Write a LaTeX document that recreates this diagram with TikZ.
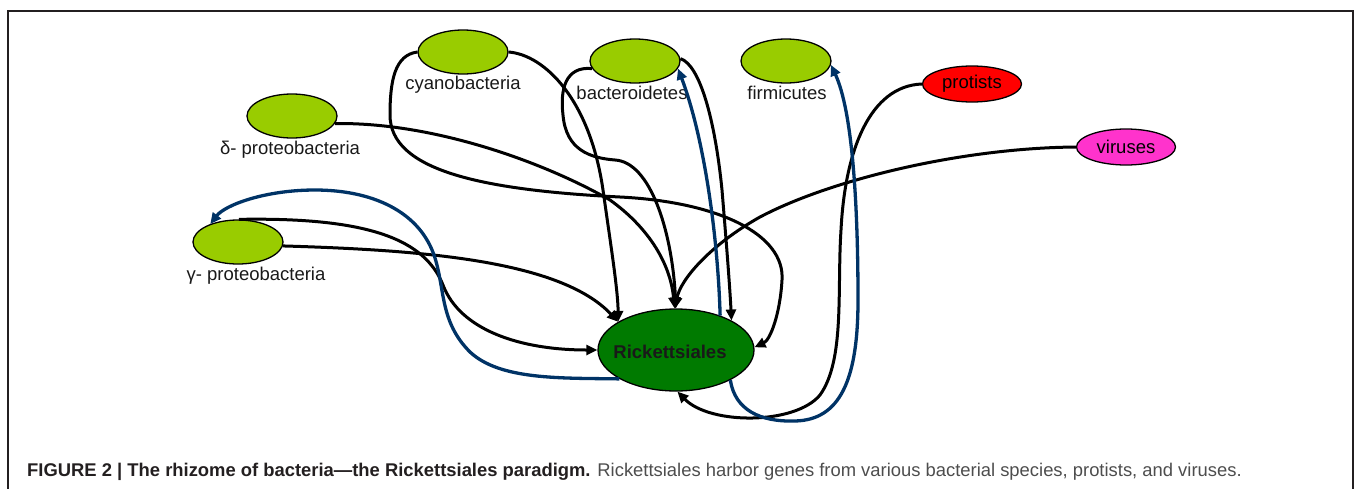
\documentclass[tikz,border=0pt]{standalone}
\usepackage{fontspec}
\setmainfont{Liberation Sans}
\usetikzlibrary{shapes.geometric,arrows.meta}
\definecolor{lgreen}{RGB}{153,204,0}
\definecolor{dgreen}{RGB}{0,122,0}
\definecolor{pred}{RGB}{255,0,0}
\definecolor{pmag}{RGB}{255,51,204}
\definecolor{navy}{RGB}{0,51,102}
\definecolor{framec}{RGB}{35,31,32}
\definecolor{capgray}{RGB}{77,77,77}
\begin{document}
\begin{tikzpicture}[x=1pt,y=-1pt,
  taxon/.style={ellipse, draw=black, line width=1.3pt, fill=lgreen, minimum width=90pt, minimum height=44pt, inner sep=0pt},
  small/.style={ellipse, draw=black, line width=1.3pt, minimum width=99pt, minimum height=36pt, inner sep=0pt, font=\fontsize{18.5}{22}\selectfont},
  lab/.style={font=\fontsize{18.5}{22}\selectfont, anchor=base, inner sep=0pt, text=black!90},
  gene/.style={line width=3pt, draw=black, -{Triangle[length=11pt,width=10pt]}},
  back/.style={gene, draw=navy, line width=3.3pt}]
\useasboundingbox (0,0) rectangle (1354,488);
\draw[framec, line width=2pt] (8,489) -- (8,11) -- (1353,11) -- (1353,489);

% nodes
\node[taxon] (cy) at (463,52) {};
\node[taxon] (ba) at (635,61) {};
\node[taxon] (fi) at (786,61) {};
\node[taxon] (dp) at (292,116) {};
\node[taxon] (gp) at (238,242) {};
\node[small, fill=pred] (pr) at (972,84) {protists};
\node[small, fill=pmag] (vi) at (1126,147) {viruses};
\node[ellipse, draw=black, line width=1.3pt, fill=dgreen, minimum width=156pt, minimum height=82pt, inner sep=0pt] (rick) at (676,350) {};

\node[lab] (cyl) at (463,89) {cyanobacteria};
\node[lab] (bal) at (632,99) {bacteroidetes};
\node[lab] (fil) at (787,99) {firmicutes};
\node[lab] (dpl) at (290,154) {δ- proteobacteria};
\node[lab] (gpl) at (256,280) {γ- proteobacteria};
\node[lab, font=\bfseries\fontsize{18.5}{22}\selectfont] (rickl) at (670,358) {Rickettsiales};

% black connectors into Rickettsiales
\draw[gene] (gp.88) .. controls (370,217) and (425,240) .. (443,285)
   .. controls (460,330) and (520,350) .. (rick.180);
\draw[gene] (gp.355) .. controls (420,250) and (560,260) .. (rick.154);
\draw[gene] (dp.350) .. controls (430,122) and (540,160) .. (610,200)
   .. controls (645,225) and (670,260) .. (rick.92);
\draw[gene] (cy.east) .. controls (545,55) and (590,100) .. (603,190)
   .. controls (610,240) and (618,290) .. (rick.154);
\draw[gene] (cy.west) .. controls (395,55) and (390,80) .. (390,115)
   .. controls (390,170) and (480,190) .. (620,197)
   .. controls (720,202) and (785,235) .. (782,280)
   .. controls (780,315) and (770,340) .. (rick.2);
\draw[gene] (ba.190) .. controls (565,66) and (560,90) .. (563,115)
   .. controls (566,150) and (590,158) .. (615,160)
   .. controls (650,162) and (672,230) .. (rick.90);
\draw[gene] (ba.3) .. controls (700,65) and (715,120) .. (722,190)
   .. controls (727,250) and (730,290) .. (rick.28);
\draw[gene] (pr.west) .. controls (870,86) and (845,150) .. (841,230)
   .. controls (837,290) and (845,360) .. (820,395)
   .. controls (795,425) and (710,425) .. (rick.272);
\draw[gene] (vi.west) .. controls (960,148) and (830,180) .. (760,217)
   .. controls (710,245) and (680,280) .. (rick.91);

% blue connectors out of Rickettsiales
\draw[back] (rick.207) .. controls (560,378) and (500,380) .. (470,352)
   .. controls (440,322) and (445,290) .. (435,258)
   .. controls (420,210) and (370,190) .. (315,190)
   .. controls (265,190) and (225,205) .. (gp.147);
\draw[back] (rick.38) .. controls (718,240) and (705,140) .. (ba.350);
\draw[back] (rick.331) .. controls (735,410) and (760,422) .. (795,421)
   .. controls (840,420) and (858,380) .. (858,300)
   .. controls (858,200) and (852,110) .. (fi.355);

% caption
\node[anchor=base west, inner sep=0pt, font=\fontsize{18.4}{22}\selectfont, text=framec] (cap) at (27,476)
  {\textbf{FIGURE 2 | The rhizome of bacteria—the Rickettsiales paradigm.} {\color{capgray}Rickettsiales harbor genes from various bacterial species, protists, and viruses.}};
\end{tikzpicture}
\end{document}
